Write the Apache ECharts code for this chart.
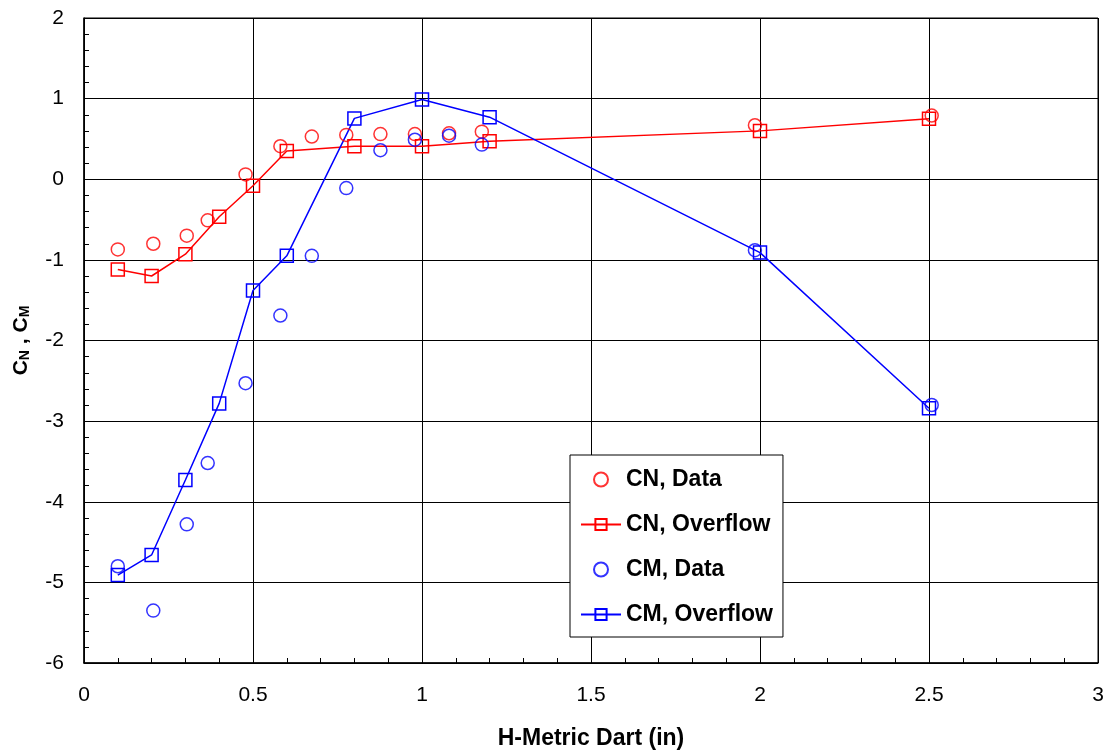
<!DOCTYPE html>
<html>
<head>
<meta charset="utf-8">
<script src="https://cdn.jsdelivr.net/npm/echarts@6/dist/echarts.min.js"></script>
<style>
html,body{margin:0;padding:0;background:#fff;}
#chart{width:1113px;height:755px;}
</style>
</head>
<body>
<div id="chart"></div>
<script>
// CN, Data (red circles)
const cnDataX = [0.10, 0.205, 0.304, 0.366, 0.478, 0.581, 0.674, 0.776, 0.877, 0.979, 1.080, 1.177, 1.985, 2.508];
const cnDataY = [-0.87, -0.80, -0.70, -0.51, 0.06, 0.41, 0.53, 0.55, 0.56, 0.56, 0.57, 0.59, 0.67, 0.79];
// CN, Overflow (red squares + line)
const cnOverX = [0.1, 0.2, 0.3, 0.4, 0.5, 0.6, 0.8, 1.0, 1.2, 2.0, 2.5];
const cnOverY = [-1.12, -1.20, -0.93, -0.465, -0.08, 0.35, 0.41, 0.41, 0.47, 0.60, 0.75];
// CM, Data (blue circles)
const cmDataX = [0.10, 0.205, 0.304, 0.366, 0.478, 0.581, 0.674, 0.776, 0.877, 0.979, 1.080, 1.177, 1.985, 2.508];
const cmDataY = [-4.80, -5.35, -4.28, -3.52, -2.53, -1.69, -0.95, -0.11, 0.36, 0.49, 0.54, 0.43, -0.88, -2.80];
// CM, Overflow (blue squares + line)
const cmOverX = [0.1, 0.2, 0.3, 0.4, 0.5, 0.6, 0.8, 1.0, 1.2, 2.0, 2.5];
const cmOverY = [-4.91, -4.66, -3.73, -2.78, -1.38, -0.95, 0.755, 0.99, 0.77, -0.91, -2.84];

const seriesNames = ['CN, Data', 'CN, Overflow', 'CM, Data', 'CM, Overflow'];
const xTitle = 'H-Metric Dart (in)';

const zip = (xs, ys) => xs.map((x, i) => [x, ys[i]]);
const RED = '#ff0000', BLUE = '#0000ff';
const FONT = 'Liberation Sans, Arial, sans-serif';

const chart = echarts.init(document.getElementById('chart'), null, {renderer: 'canvas'});
chart.setOption({
  animation: false,
  backgroundColor: '#fff',
  grid: {left: 84, right: 15, top: 18, bottom: 92, show: true, borderColor: '#000', borderWidth: 1, backgroundColor: 'transparent'},
  xAxis: {
    type: 'value', min: 0, max: 3, interval: 0.5,
    name: xTitle, nameLocation: 'middle', nameGap: 64,
    nameTextStyle: {fontFamily: FONT, fontWeight: 'bold', fontSize: 23, color: '#000'},
    axisLine: {show: true, onZero: false, lineStyle: {color: '#000', width: 1.5}},
    axisTick: {show: true, inside: true, length: 5, lineStyle: {color: '#000'}},
    minorTick: {show: true, splitNumber: 5, length: 5, lineStyle: {color: '#000'}},
    splitLine: {show: true, lineStyle: {color: '#000', width: 1}},
    axisLabel: {fontFamily: FONT, fontSize: 21, color: '#000', margin: 22}
  },
  yAxis: {
    type: 'value', min: -6, max: 2, interval: 1,
    name: '{a|C}{s|N}{a| , C}{s|M}', nameLocation: 'middle', nameGap: 52, nameRotate: 90,
    nameTextStyle: {rich: {
      a: {fontFamily: FONT, fontWeight: 'bold', fontSize: 21, color: '#000'},
      s: {fontFamily: FONT, fontWeight: 'bold', fontSize: 14, color: '#000', verticalAlign: 'bottom', padding: [8, 0, 0, 0]}
    }},
    axisLine: {show: true, onZero: false, lineStyle: {color: '#000', width: 1.5}},
    axisTick: {show: true, inside: true, length: 5, lineStyle: {color: '#000'}},
    minorTick: {show: true, splitNumber: 5, length: 5, lineStyle: {color: '#000'}},
    splitLine: {show: true, lineStyle: {color: '#000', width: 1}},
    axisLabel: {fontFamily: FONT, fontSize: 21, color: '#000', margin: 20}
  },
  legend: {
    orient: 'vertical', left: 570, top: 455,
    backgroundColor: '#fff', borderColor: '#000', borderWidth: 1,
    padding: [13, 10, 11, 10], itemGap: 22, itemWidth: 40, itemHeight: 14,
    textStyle: {fontFamily: FONT, fontWeight: 'bold', fontSize: 23, color: '#000'},
    data: seriesNames
  },
  series: [
    {name: seriesNames[0], type: 'scatter', data: zip(cnDataX, cnDataY), symbol: 'circle', symbolSize: 13,
     itemStyle: {color: 'transparent', borderColor: RED, borderWidth: 1.5}, z: 3},
    {name: seriesNames[1], type: 'line', data: zip(cnOverX, cnOverY), symbol: 'rect', symbolSize: 13, showAllSymbol: true,
     lineStyle: {color: RED, width: 1.5}, itemStyle: {color: 'transparent', borderColor: RED, borderWidth: 1.5}, z: 2},
    {name: seriesNames[2], type: 'scatter', data: zip(cmDataX, cmDataY), symbol: 'circle', symbolSize: 13,
     itemStyle: {color: 'transparent', borderColor: BLUE, borderWidth: 1.5}, z: 3},
    {name: seriesNames[3], type: 'line', data: zip(cmOverX, cmOverY), symbol: 'rect', symbolSize: 13, showAllSymbol: true,
     lineStyle: {color: BLUE, width: 1.5}, itemStyle: {color: 'transparent', borderColor: BLUE, borderWidth: 1.5}, z: 2}
  ]
});
</script>
</body>
</html>
